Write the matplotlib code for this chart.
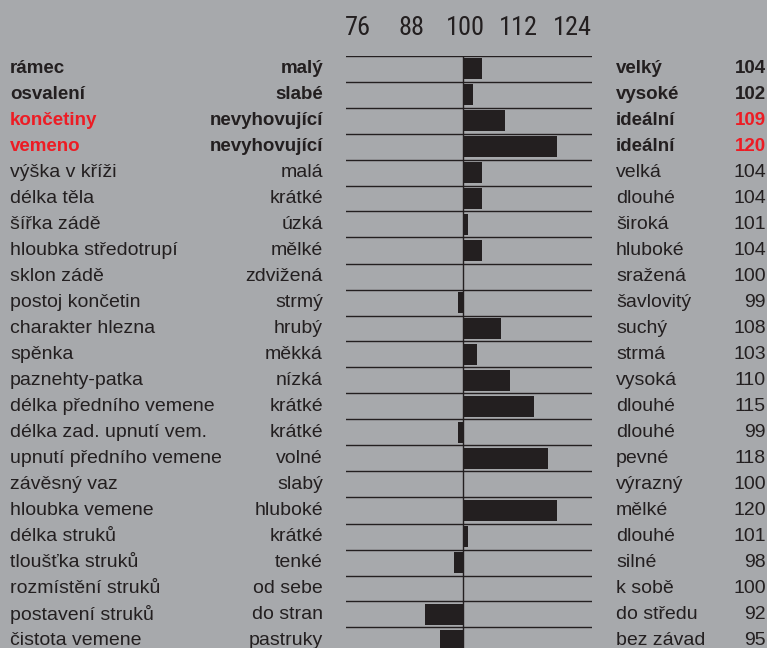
import matplotlib.pyplot as plt
from matplotlib import font_manager
from matplotlib.transforms import blended_transform_factory

# data
traits = ['rámec', 'osvalení', 'končetiny', 'vemeno', 'výška v kříži', 'délka těla',
          'šířka zádě', 'hloubka středotrupí', 'sklon zádě', 'postoj končetin',
          'charakter hlezna', 'spěnka', 'paznehty-patka', 'délka předního vemene',
          'délka zad. upnutí vem.', 'upnutí předního vemene', 'závěsný vaz',
          'hloubka vemene', 'délka struků', 'tloušťka struků', 'rozmístění struků',
          'postavení struků', 'čistota vemene']
low_labels = ['malý', 'slabé', 'nevyhovující', 'nevyhovující', 'malá', 'krátké',
              'úzká', 'mělké', 'zdvižená', 'strmý', 'hrubý', 'měkká', 'nízká',
              'krátké', 'krátké', 'volné', 'slabý', 'hluboké', 'krátké', 'tenké',
              'od sebe', 'do stran', 'pastruky']
high_labels = ['velký', 'vysoké', 'ideální', 'ideální', 'velká', 'dlouhé',
               'široká', 'hluboké', 'sražená', 'šavlovitý', 'suchý', 'strmá',
               'vysoká', 'dlouhé', 'dlouhé', 'pevné', 'výrazný', 'mělké',
               'dlouhé', 'silné', 'k sobě', 'do středu', 'bez závad']
values = [104, 102, 109, 120, 104, 104, 101, 104, 100, 99, 108, 103, 110, 115,
          99, 118, 100, 120, 101, 98, 100, 92, 95]
bold_rows = [0, 1, 2, 3]
red_rows = [2, 3]
ticks = [76, 88, 100, 112, 124]

BG = '#a7a9ac'
DARK = '#231f20'
RED = '#ed1c24'

# condensed face for the scale numbers, if one is installed
names = {f.name for f in font_manager.fontManager.ttflist}
tick_font, tick_size = 'Liberation Sans', 15
for cand in ['Liberation Sans Narrow', 'Roboto Condensed', 'DejaVu Sans Condensed',
             'Open Sans Condensed', 'Noto Sans Condensed']:
    if cand in names:
        tick_font, tick_size = cand, 19
        break
else:
    for f in font_manager.fontManager.ttflist:
        if 'condensed' in str(f.stretch) and f.style == 'normal' and f.weight in (400, 'normal', 'regular'):
            tick_font, tick_size = f.name, 19
            break
plt.rcParams['font.family'] = ['Liberation Sans', 'DejaVu Sans']

W, H = 767, 648
fig = plt.figure(figsize=(W / 100, H / 100), dpi=100, facecolor=BG)

n = len(traits)
pitch = 26.0
top_px = 55.5
bottom_row = (H - top_px) / pitch - 0.5
ax_left, ax_right = 346 / W, 592 / W
ax = fig.add_axes([ax_left, 0, ax_right - ax_left, 1 - top_px / H])
ax.set_facecolor(BG)
ax.set_xlim(75.1, 127.4)
ax.set_ylim(bottom_row, -0.5)

rows = list(range(n))
ax.barh(rows, [v - 100 for v in values], left=100, height=0.8, color=DARK, zorder=2)
for k in range(n):
    ax.axhline(k - 0.5, color=DARK, lw=1.0, zorder=3)
ax.axvline(100, color=DARK, lw=1.0, zorder=3)

for s in ax.spines.values():
    s.set_visible(False)
ax.set_xticks([])
ax.set_yticks([])

# top scale labels
axt = ax.twiny()
axt.set_xlim(73.3, 128.5)
axt.set_xticks(ticks)
axt.set_xticklabels([str(t) for t in ticks], fontsize=tick_size, family=tick_font,
                    color=DARK)
axt.tick_params(axis='x', length=0, pad=11)
for s in axt.spines.values():
    s.set_visible(False)

tr = blended_transform_factory(fig.transFigure, ax.transData)
for i in rows:
    bold = i in bold_rows
    w = 'bold' if bold else 'normal'
    fs = 13.5 if bold else 14
    name_col = RED if i in red_rows else DARK
    ax.text(10 / W, i, traits[i], transform=tr, ha='left', va='center',
            fontsize=fs, fontweight=w, color=name_col, clip_on=False)
    ax.text(323 / W, i, low_labels[i], transform=tr, ha='right', va='center',
            fontsize=fs, fontweight=w, color=DARK, clip_on=False)
    ax.text(616 / W, i, high_labels[i], transform=tr, ha='left', va='center',
            fontsize=fs, fontweight=w, color=DARK, clip_on=False)
    ax.text(766 / W, i, str(values[i]), transform=tr, ha='right', va='center',
            fontsize=fs, fontweight=w, color=name_col, clip_on=False)

fig.savefig('out.png', dpi=100, facecolor=BG)
